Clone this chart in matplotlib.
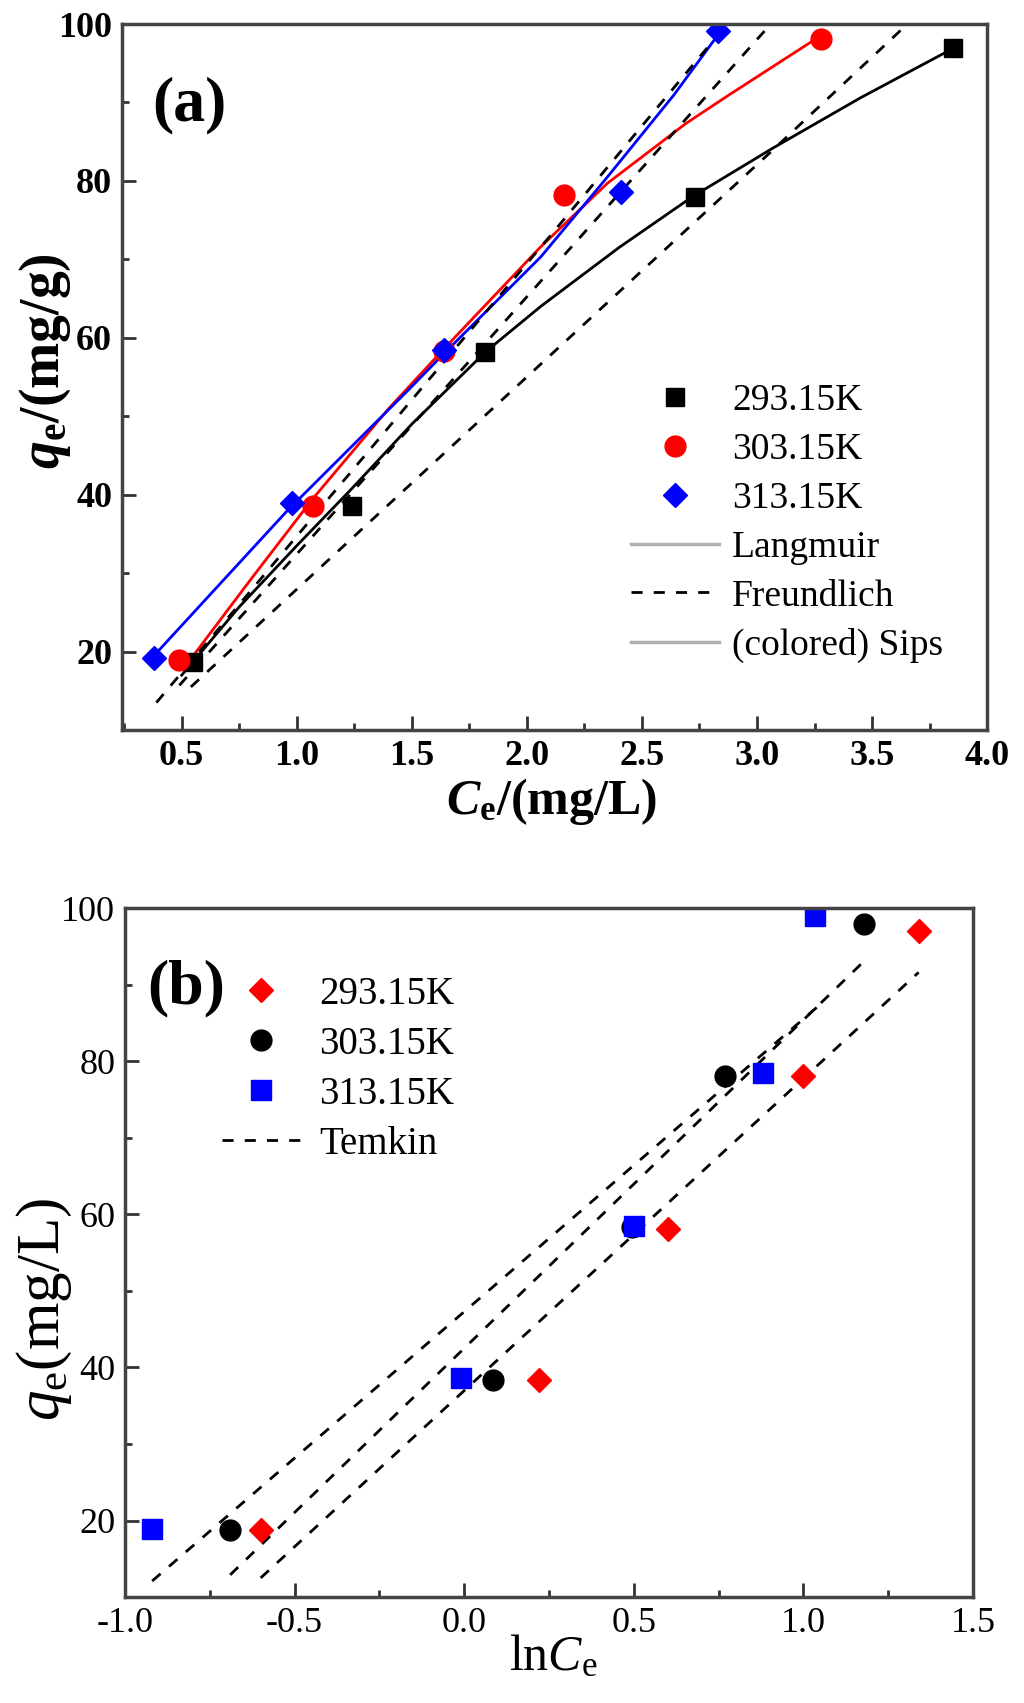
import matplotlib
matplotlib.use('Agg')
from matplotlib import pyplot as plt
from matplotlib.lines import Line2D
from matplotlib.ticker import MultipleLocator, AutoMinorLocator

plt.rcParams['font.family'] = ['Liberation Serif', 'DejaVu Serif']
plt.rcParams['mathtext.fontset'] = 'custom'
plt.rcParams['mathtext.rm'] = 'Liberation Serif'
plt.rcParams['mathtext.it'] = 'Liberation Serif:italic'
plt.rcParams['mathtext.bf'] = 'Liberation Serif:bold'
plt.rcParams['mathtext.bfit'] = 'Liberation Serif:bold:italic'

temps = ['293.15K', '303.15K', '313.15K']

# ---- panel (a): Ce vs qe ----
ce_293 = [0.55, 1.24, 1.82, 2.73, 3.85]
qe_293 = [18.7, 38.5, 58.2, 78.0, 96.9]
ce_303 = [0.49, 1.07, 1.64, 2.16, 3.28]
qe_303 = [18.9, 38.6, 58.3, 78.2, 98.1]
ce_313 = [0.38, 0.98, 1.64, 2.41, 2.83]
qe_313 = [19.2, 38.9, 58.5, 78.6, 99.1]

# Sips fits
sips_x_293 = [0.50, 0.75, 1.00, 1.24, 1.50, 1.82, 2.06, 2.40, 2.72, 3.07, 3.45, 3.84]
sips_y_293 = [17.0, 25.7, 33.5, 40.8, 49.0, 58.2, 64.0, 71.5, 78.0, 84.2, 90.6, 96.7]
sips_x_303 = [0.52, 0.80, 1.07, 1.40, 1.64, 2.06, 2.35, 2.69, 2.87, 3.25]
sips_y_303 = [18.3, 29.2, 39.5, 51.0, 58.6, 71.6, 79.7, 87.3, 90.8, 98.0]
sips_x_313 = [0.38, 0.96, 1.49, 1.64, 2.06, 2.35, 2.64, 2.83]
sips_y_313 = [19.5, 38.0, 53.5, 58.0, 70.3, 80.5, 91.0, 98.6]

# Freundlich fits
fr_x_293 = [0.54, 3.06, 3.65]
fr_y_293 = [15.5, 83.7, 99.9]
fr_x_303 = [0.49, 3.06]
fr_y_303 = [15.7, 100.0]
fr_x_313 = [0.39, 2.11, 2.87]
fr_y_313 = [13.5, 73.3, 100.0]

# ---- panel (b): lnCe vs qe ----
lnc_293 = [-0.60, 0.22, 0.60, 1.00, 1.34]
qb_293 = [18.7, 38.3, 58.1, 78.0, 97.0]
lnc_303 = [-0.69, 0.085, 0.495, 0.77, 1.18]
qb_303 = [18.7, 38.4, 58.3, 78.0, 97.9]
lnc_313 = [-0.92, -0.01, 0.50, 0.88, 1.035]
qb_313 = [18.9, 38.6, 58.5, 78.4, 99.0]

# Temkin fits
tk_x_293 = [-0.60, 1.34]
tk_y_293 = [12.5, 91.6]
tk_x_303 = [-0.69, 1.18]
tk_y_303 = [12.9, 93.1]
tk_x_313 = [-0.92, 1.06]
tk_y_313 = [12.1, 87.8]

fig = plt.figure(figsize=(10.24, 17.03), dpi=100)
ax1 = fig.add_axes([0.119, 0.5713, 0.845, 0.4146])
ax2 = fig.add_axes([0.1221, 0.0622, 0.828, 0.4046])

RED = '#ff0000'
BLUE = '#0000ff'
dash = (0, (4, 4))


def style_axes(ax, bold):
    for sp in ax.spines.values():
        sp.set_linewidth(2.5)
        sp.set_color('#444444')
    ax.tick_params(which='both', direction='in', top=False, right=False,
                   labelsize=26, pad=7, color='#333333')
    ax.tick_params(which='major', length=10, width=2)
    ax.tick_params(which='minor', length=5, width=2)
    ax.xaxis.set_minor_locator(AutoMinorLocator(2))
    ax.yaxis.set_minor_locator(AutoMinorLocator(2))
    if bold:
        for t in ax.get_xticklabels() + ax.get_yticklabels():
            t.set_fontweight('bold')


# 图 (a)
ax1.plot(sips_x_293, sips_y_293, c='black', lw=2)
ax1.plot(sips_x_303, sips_y_303, c=RED, lw=2)
ax1.plot(sips_x_313, sips_y_313, c=BLUE, lw=2)
for fx, fy in [(fr_x_293, fr_y_293), (fr_x_303, fr_y_303), (fr_x_313, fr_y_313)]:
    ax1.plot(fx, fy, c='black', lw=2, ls=dash)
ax1.plot(ce_293, qe_293, 's', c='black', ms=13, ls='none')
ax1.plot(ce_303, qe_303, 'o', c=RED, ms=15, ls='none')
ax1.plot(ce_313, qe_313, 'D', c=BLUE, ms=12, ls='none')

ax1.set_xlim(0.24, 4.0)
ax1.set_ylim(10, 100)
ax1.xaxis.set_major_locator(MultipleLocator(0.5))
ax1.set_yticks([20, 40, 60, 80, 100])
ax1.xaxis.set_major_formatter(plt.FuncFormatter(lambda v, p: '%.1f' % v))
style_axes(ax1, True)

ax1.set_xlabel(r'$\mathbfit{C}_{\mathbf{e}}$/(mg/L)', fontsize=36, fontweight='bold')
ax1.set_ylabel(r'$\mathbfit{q}_{\mathbf{e}}$/(mg/g)', fontsize=40, fontweight='bold')
ax1.xaxis.set_label_coords(0.497, -0.065)
ax1.yaxis.set_label_coords(-0.057, 0.523)
ax1.text(0.0775, 0.884, '(a)', transform=ax1.transAxes, fontsize=46,
         fontweight='bold', ha='center', va='center')

grey = '#b0b0b0'
h1 = [Line2D([], [], marker='s', c='black', ms=13, ls='none'),
      Line2D([], [], marker='o', c=RED, ms=15, ls='none'),
      Line2D([], [], marker='D', c=BLUE, ms=12, ls='none'),
      Line2D([], [], c=grey, lw=2.5),
      Line2D([], [], c='black', lw=2, ls=dash),
      Line2D([], [], c=grey, lw=2.5)]
l1 = temps + ['Langmuir', 'Freundlich', '(colored) Sips']
ax1.legend(h1, l1, loc='upper left', bbox_to_anchor=(631 / 1024, 1 - 384 / 1703),
           bbox_transform=fig.transFigure, frameon=False, fontsize=27,
           handlelength=2.35, handletextpad=0.35, labelspacing=0.38, borderpad=0,
           borderaxespad=0)

# 图 (b)
for tx, ty in [(tk_x_293, tk_y_293), (tk_x_303, tk_y_303), (tk_x_313, tk_y_313)]:
    ax2.plot(tx, ty, c='black', lw=2, ls=dash)
ax2.plot(lnc_293, qb_293, 'D', c=RED, ms=12, ls='none')
ax2.plot(lnc_303, qb_303, 'o', c='black', ms=15, ls='none')
ax2.plot(lnc_313, qb_313, 's', c=BLUE, ms=14, ls='none')

ax2.set_xlim(-1.0, 1.5)
ax2.set_ylim(10, 100)
ax2.xaxis.set_major_locator(MultipleLocator(0.5))
ax2.set_yticks([20, 40, 60, 80, 100])
ax2.xaxis.set_major_formatter(plt.FuncFormatter(lambda v, p: '%.1f' % v))
style_axes(ax2, False)

ax2.set_xlabel(r'ln$C_{\mathrm{e}}$', fontsize=36)
ax2.set_ylabel(r'$q_{\mathrm{e}}$(mg/L)', fontsize=44)
ax2.xaxis.set_label_coords(0.505, -0.055)
ax2.yaxis.set_label_coords(-0.06, 0.417)
ax2.text(0.072, 0.883, '(b)', transform=ax2.transAxes, fontsize=46,
         fontweight='bold', ha='center', va='center')

h2 = [Line2D([], [], marker='D', c=RED, ms=12, ls='none'),
      Line2D([], [], marker='o', c='black', ms=15, ls='none'),
      Line2D([], [], marker='s', c=BLUE, ms=14, ls='none'),
      Line2D([], [], c='black', lw=2, ls=dash)]
ax2.legend(h2, temps + ['Temkin'], loc='upper left',
           bbox_to_anchor=(222 / 1024, 1 - 976 / 1703),
           bbox_transform=fig.transFigure, frameon=False, fontsize=28,
           handlelength=2.0, handletextpad=0.5, labelspacing=0.33, borderpad=0,
           borderaxespad=0)

fig.savefig('out.png', dpi=100)
